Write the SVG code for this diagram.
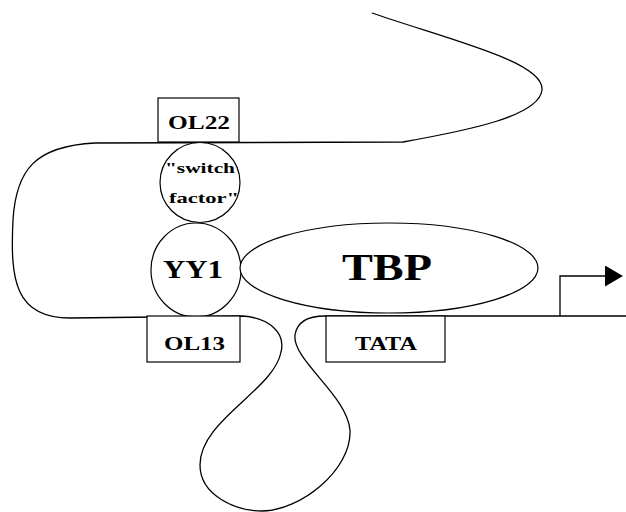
<svg xmlns="http://www.w3.org/2000/svg" width="626" height="512" viewBox="0 0 626 512">
  <style>
    .dna { fill: none; stroke: #000; stroke-width: 1.3; }
    .box { fill: #fff; stroke: #000; stroke-width: 1.2; }
    .prot { fill: #fff; stroke: #000; stroke-width: 1.2; }
    .lbl { font-family: "Liberation Serif", "Liberation Mono", serif; font-weight: bold; fill: #000; }
  </style>
  <defs>
    <marker id="arrowHead" viewBox="0 0 18 21" refX="0" refY="10.5" markerWidth="18" markerHeight="21" markerUnits="userSpaceOnUse" orient="auto">
      <path d="M0,0 L18,10.5 L0,21 Z" fill="#000"/>
    </marker>
  </defs>

  <!-- DNA strand with upstream loop and bent promoter -->
  <g id="connectors">
    <path class="dna" d="M372,13 C450,40 545,62 542,90 C539,116 470,130 403,142 L95,143 C35,146 16,170 13,220 C10,280 15,318 70,318 L243,316 C268,318 286,332 281,352 C274,390 200,420 200,465 C200,495 235,511 262,511 C300,511 352,470 350,430 C347,395 292,360 295,335 C297,322 308,316 325,316 L626,316"/>
    <path class="dna" d="M560,316 L560,276 L605,276" marker-end="url(#arrowHead)"/>
  </g>

  <g id="ol22">
    <rect class="box" x="158" y="98" width="81" height="44"/>
    <text class="lbl" x="168" y="129" font-size="19" textLength="62" lengthAdjust="spacingAndGlyphs">OL22</text>
  </g>

  <g id="switch-factor">
    <circle class="prot" cx="200" cy="182.5" r="40"/>
    <text class="lbl" x="165" y="173" font-size="14" textLength="70" lengthAdjust="spacingAndGlyphs">"switch</text>
    <text class="lbl" x="169" y="203" font-size="14" textLength="70" lengthAdjust="spacingAndGlyphs">factor"</text>
  </g>

  <g id="yy1">
    <ellipse class="prot" cx="196" cy="270" rx="45" ry="47"/>
    <text class="lbl" x="163" y="278" font-size="26" textLength="60" lengthAdjust="spacingAndGlyphs">YY1</text>
  </g>

  <g id="tbp">
    <ellipse class="prot" cx="389" cy="268" rx="149" ry="45"/>
    <text class="lbl" x="342" y="280" font-size="38" textLength="90" lengthAdjust="spacingAndGlyphs">TBP</text>
  </g>

  <g id="ol13">
    <rect class="box" x="147" y="316" width="93" height="46"/>
    <text class="lbl" x="164" y="350" font-size="18" textLength="61" lengthAdjust="spacingAndGlyphs">OL13</text>
  </g>

  <g id="tata">
    <rect class="box" x="326" y="316" width="119" height="46"/>
    <text class="lbl" x="355" y="350" font-size="19" textLength="62" lengthAdjust="spacingAndGlyphs">TATA</text>
  </g>
</svg>
